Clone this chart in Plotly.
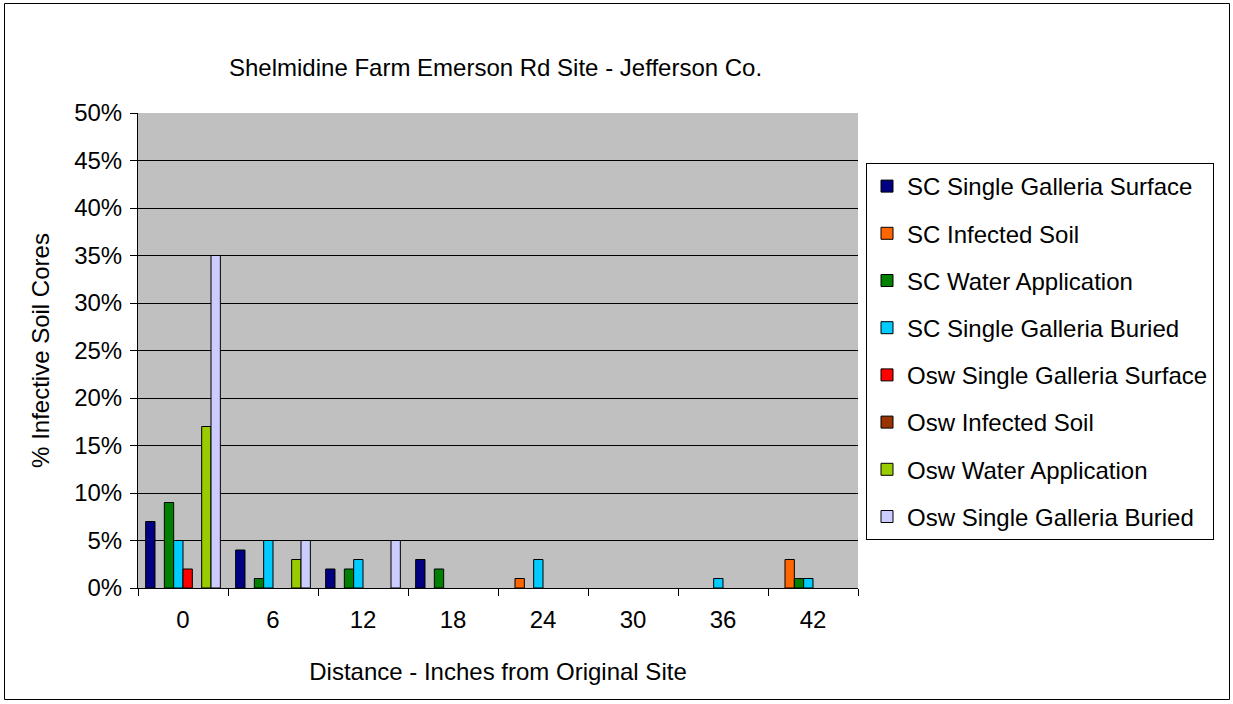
import plotly.graph_objects as go

distances = ["0", "6", "12", "18", "24", "30", "36", "42"]

sc_surface = [7, 4, 2, 3, 0, 0, 0, 0]
sc_infected = [0, 0, 0, 0, 1, 0, 0, 3]
sc_water = [9, 1, 2, 2, 0, 0, 0, 1]
sc_buried = [5, 5, 3, 0, 3, 0, 1, 1]
osw_surface = [2, 0, 0, 0, 0, 0, 0, 0]
osw_infected = [0, 0, 0, 0, 0, 0, 0, 0]
osw_water = [17, 3, 0, 0, 0, 0, 0, 0]
osw_buried = [35, 5, 5, 0, 0, 0, 0, 0]

series = [
    ("SC Single Galleria Surface", sc_surface, "#000080"),
    ("SC Infected Soil", sc_infected, "#FF6600"),
    ("SC Water Application", sc_water, "#008000"),
    ("SC Single Galleria Buried", sc_buried, "#00CCFF"),
    ("Osw Single Galleria Surface", osw_surface, "#FF0000"),
    ("Osw Infected Soil", osw_infected, "#993300"),
    ("Osw Water Application", osw_water, "#99CC00"),
    ("Osw Single Galleria Buried", osw_buried, "#CCCCFF"),
]

FONT = "Liberation Sans, Arial, sans-serif"
FS = 24

fig = go.Figure()
for i, (name, vals, color) in enumerate(series):
    # zero percentages are left empty so no outline is drawn on the axis
    fig.add_trace(go.Bar(
        x=distances,
        y=[v / 100 if v else None for v in vals],
        name=name,
        legendgroup=f"g{i}",
        marker=dict(color=color, line=dict(color="black", width=1)),
    ))

# plot area in pixels
L, R, T, B = 138, 858, 113, 588
W, H = 1233, 704
pw, ph = R - L, B - T


def px_x(x):
    return (x - L) / pw


def px_y(y):
    return (B - y) / ph


fig.update_layout(
    width=W,
    height=H,
    margin=dict(l=L, r=W - R, t=T, b=H - B, pad=0),
    paper_bgcolor="white",
    plot_bgcolor="#C0C0C0",
    barmode="group",
    bargap=0.17,
    bargroupgap=0,
    font=dict(family=FONT, size=FS, color="black"),
    showlegend=True,
    legend=dict(
        x=px_x(866), y=px_y(163), xanchor="left", yanchor="top",
        bgcolor="white", bordercolor="black", borderwidth=1,
        font=dict(family=FONT, size=FS, color="black"),
        tracegroupgap=13,
        traceorder="grouped",
    ),
    xaxis=dict(
        type="category",
        showgrid=False,
        showline=True, linecolor="black", linewidth=1,
        ticks="outside", tickson="boundaries", ticklen=7, tickcolor="black",
        ticklabelstandoff=10,
        tickfont=dict(size=FS),
        title=dict(text="Distance - Inches from Original Site", font=dict(size=FS), standoff=31),
    ),
    yaxis=dict(
        range=[0, 0.5],
        dtick=0.05,
        tickformat=".0%",
        showgrid=True, gridcolor="black", gridwidth=1,
        showline=True, linecolor="black", linewidth=1,
        ticks="outside", ticklen=7, tickcolor="black",
        ticklabelstandoff=3,
        tickfont=dict(size=FS),
        title=dict(text="% Infective Soil Cores", font=dict(size=FS), standoff=17),
        zeroline=False,
    ),
    annotations=[
        dict(
            text="Shelmidine Farm Emerson Rd Site - Jefferson Co.",
            xref="paper", yref="paper",
            x=px_x(495), y=px_y(68),
            xanchor="center", yanchor="middle",
            showarrow=False,
            font=dict(family=FONT, size=FS, color="black"),
        )
    ],
    shapes=[
        dict(
            type="rect", xref="paper", yref="paper",
            x0=px_x(4.5), x1=px_x(1229.5), y0=px_y(699.5), y1=px_y(3.5),
            line=dict(color="black", width=1), fillcolor="rgba(0,0,0,0)",
            layer="below",
        )
    ],
)

fig.write_html("out.html")
